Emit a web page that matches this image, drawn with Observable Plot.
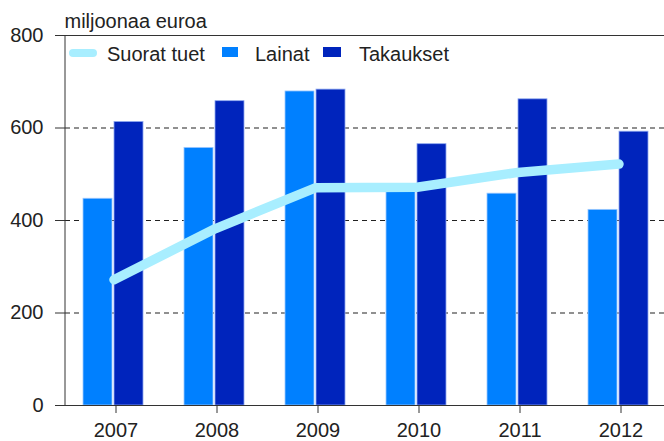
<!DOCTYPE html>
<html>
<head>
<meta charset="utf-8">
<script src="https://cdn.jsdelivr.net/npm/d3@7"></script>
<script src="https://cdn.jsdelivr.net/npm/@observablehq/plot@0.6"></script>
<style>
  html, body { margin: 0; padding: 0; background: #fff; }
  #chart { width: 664px; height: 441px; }
</style>
</head>
<body>
<div id="chart"></div>
<script>
const years = ["2007", "2008", "2009", "2010", "2011", "2012"];
const lainat = [447, 557, 679, 465, 458, 423];
const takaukset = [613, 658, 683, 565, 662, 592];
const suoratTuet = [272, 382, 471, 472, 504, 522];
const yTicks = [0, 200, 400, 600, 800];
const gridValues = [200, 400, 600];
const unitLabel = "miljoonaa euroa";
const seriesNames = ["Suorat tuet", "Lainat", "Takaukset"];
const colors = { line: "#a8eeff", lainat: "#0080ff", takaukset: "#0024bc" };

const rows = years.map((year, i) => ({
  year,
  lainat: lainat[i],
  takaukset: takaukset[i],
  suorat: suoratTuet[i]
}));

const W = 664, H = 441;
const marginLeft = 65, marginTop = 35, marginBottom = 36;

const chart = Plot.plot({
  width: W,
  height: H,
  marginLeft,
  marginRight: 0,
  marginTop,
  marginBottom,
  style: { fontFamily: "'Liberation Sans', Arial, sans-serif", fontSize: "20px", color: "#222", background: "#fff" },
  x: { type: "band", domain: years, range: [marginLeft, 671], padding: 0, label: null },
  y: { domain: [0, 800], label: null },
  marks: [
    Plot.ruleY(gridValues, { stroke: "#222", strokeDasharray: "5,4", strokeWidth: 1.2 }),
    Plot.barY(rows, { x: "year", y: "lainat", fill: colors.lainat, stroke: "#9cc8ff", strokeWidth: 0.8, insetLeft: 18, insetRight: 54 }),
    Plot.barY(rows, { x: "year", y: "takaukset", fill: colors.takaukset, stroke: "#8ea8f0", strokeWidth: 0.8, insetLeft: 49, insetRight: 23 }),
    Plot.ruleY([0, 800], { stroke: "#333", strokeWidth: 1 }),
    Plot.line(rows, { x: "year", y: "suorat", stroke: colors.line, strokeWidth: 9.5, strokeLinecap: "round", strokeLinejoin: "round", dx: -2 }),
    Plot.axisY({ ticks: yTicks, tickSize: 10, tickPadding: 12, stroke: "#333", fill: "#222", label: null }),
    Plot.axisX({ tickSize: 8, tickPadding: 9, stroke: "#333", fill: "#222", label: null }),
    Plot.text([unitLabel], { frameAnchor: "top-left", dx: -1, dy: -8, textAnchor: "start", lineAnchor: "bottom", fill: "#222", fontSize: 20 })
  ]
});

document.getElementById("chart").appendChild(chart);

// left axis line + legend inside the plot
const svg = d3.select(chart);
svg.append("line")
  .attr("x1", marginLeft).attr("x2", marginLeft)
  .attr("y1", marginTop).attr("y2", H - marginBottom)
  .attr("stroke", "#333").attr("stroke-width", 1);

const lg = svg.append("g")
  .attr("font-family", "'Liberation Sans', Arial, sans-serif")
  .attr("font-size", 20)
  .attr("text-anchor", "start")
  .attr("fill", "#222");
lg.append("line")
  .attr("x1", 73).attr("x2", 93).attr("y1", 53).attr("y2", 53)
  .attr("stroke", colors.line).attr("stroke-width", 8).attr("stroke-linecap", "round");
lg.append("text").attr("x", 107).attr("y", 61).attr("text-anchor", "start").text(seriesNames[0]);
lg.append("rect").attr("x", 222).attr("y", 47).attr("width", 16).attr("height", 10).attr("fill", colors.lainat);
lg.append("text").attr("x", 255).attr("y", 61).attr("text-anchor", "start").text(seriesNames[1]);
lg.append("rect").attr("x", 323).attr("y", 47).attr("width", 18).attr("height", 10).attr("fill", colors.takaukset);
lg.append("text").attr("x", 359).attr("y", 61).attr("text-anchor", "start").text(seriesNames[2]);
</script>
</body>
</html>
